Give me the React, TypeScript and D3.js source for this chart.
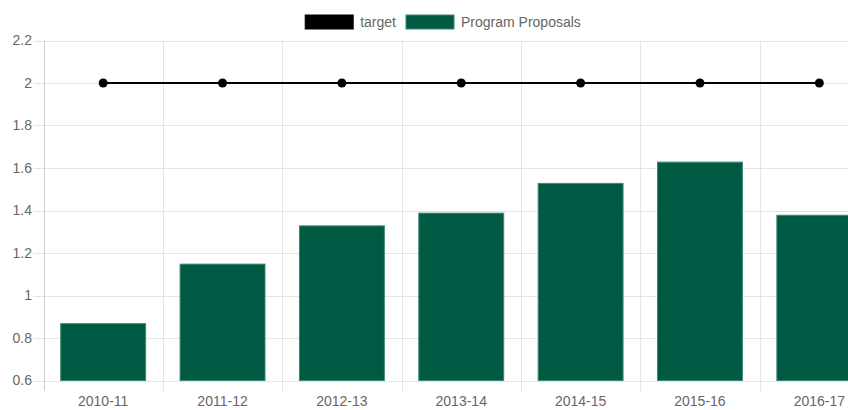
import * as d3 from "d3";

const categories = ["2010-11", "2011-12", "2012-13", "2013-14", "2014-15", "2015-16", "2016-17"];
const proposals = [0.87, 1.15, 1.33, 1.39, 1.53, 1.63, 1.38];
const target = [2, 2, 2, 2, 2, 2, 2];
const yTicks = [0.6, 0.8, 1, 1.2, 1.4, 1.6, 1.8, 2, 2.2];

const GREEN = "#005a43";
const FONT = "'Liberation Sans', Arial, Helvetica, sans-serif";

export default function App() {
  // the original canvas is wider than the window, so the right edge is cut off
  const fullWidth = 886;
  const height = 410;
  const left = 43.5;
  const right = 879;
  const top = 40.5;
  const bottom = 380.5;

  const x = d3.scaleBand<string>().domain(categories).range([left, right]).padding(0);
  const y = d3.scaleLinear().domain([0.6, 2.2]).range([bottom, top]);
  const bw = x.bandwidth();
  const barW = bw * 0.72;
  const cx = (c: string) => (x(c) ?? 0) + bw / 2;

  const line = d3
    .line<number>()
    .x((_, i) => cx(categories[i]))
    .y((d) => y(d));

  const boundaries = categories.map((c) => x(c) ?? 0).concat([right]);

  // legend: box 48 wide, text at box + 7, items separated by 10
  const legendItems = [
    { label: "target", color: "#000", text: 35.8 },
    { label: "Program Proposals", color: GREEN, text: 119.8 },
  ];
  const legendW = legendItems.reduce((s, it) => s + 48 + 7 + it.text, 0) + 10;
  let lx = fullWidth / 2 - legendW / 2;
  const legend = legendItems.map((it) => {
    const pos = lx;
    lx += 48 + 7 + it.text + 10;
    return { ...it, x: pos };
  });

  return (
    <svg
      width={848}
      height={height}
      style={{ position: "absolute", left: 0, top: 0, fontFamily: FONT }}
    >
      <rect width={848} height={height} fill="#fff" />
      {/* horizontal grid + y ticks */}
      {yTicks.map((t) => (
        <g key={t}>
          <line x1={33.5} x2={right} y1={Math.round(y(t)) + 0.5} y2={Math.round(y(t)) + 0.5} stroke="#e5e5e5" />
          <text x={32} y={y(t)} dy="0.35em" textAnchor="end" fontSize={14} fill="#666">
            {d3.format("")(t)}
          </text>
        </g>
      ))}
      {/* vertical grid + x ticks */}
      {boundaries.map((b, i) => (
        <line
          key={i}
          x1={Math.round(b) + 0.5}
          x2={Math.round(b) + 0.5}
          y1={top}
          y2={391}
          stroke={i === 0 ? "#cdcdcd" : "#e5e5e5"}
        />
      ))}
      {categories.map((c) => (
        <text key={c} x={cx(c)} y={406} textAnchor="middle" fontSize={14} fill="#666">
          {c}
        </text>
      ))}
      {/* bars */}
      {proposals.map((v, i) => {
        const c = categories[i];
        return (
          <rect
            key={c}
            x={cx(c) - barW / 2 + 0.5}
            y={y(v) + 0.5}
            width={barW - 1}
            height={bottom - y(v) - 0.5}
            fill={GREEN}
            stroke="#3f8a73"
            strokeWidth={1}
          />
        );
      })}
      {/* target line */}
      <path d={line(target) ?? ""} fill="none" stroke="#000" strokeWidth={2} />
      {target.map((v, i) => (
        <circle key={i} cx={cx(categories[i])} cy={y(v)} r={4.5} fill="#000" />
      ))}
      {/* legend */}
      {legend.map((it) => (
        <g key={it.label}>
          <rect x={it.x} y={15} width={48} height={14} fill={it.color} stroke={it.color === "#000" ? "#000" : "#3f8a73"} />
          <text x={it.x + 55} y={22} dy="0.35em" fontSize={14} fill="#666">
            {it.label}
          </text>
        </g>
      ))}
    </svg>
  );
}
